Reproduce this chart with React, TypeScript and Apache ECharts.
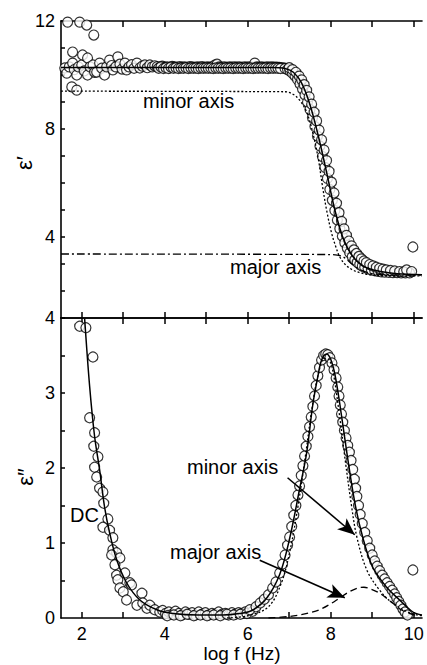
import React, { useEffect, useRef } from 'react';
import * as echarts from 'echarts';

const FONT = '"Liberation Sans", Arial, Helvetica, sans-serif';

// axis ticks / labels
const xTicks = [2, 3, 4, 5, 6, 7, 8, 9, 10];
const xLabels = [2, 4, 6, 8, 10];
const realTicks = [2, 3, 4, 5, 6, 7, 8, 9, 10, 11, 12];
const realLabels = [4, 8, 12];
const imagTicks = [0.5, 1, 1.5, 2, 2.5, 3, 3.5, 4];
const imagLabels = [0, 1, 2, 3, 4];

// ε' measured points [log f, ε']
const realLowFreq = [
  [1.66, 11.96], [1.95, 11.96], [2.12, 11.85], [2.29, 11.48],
  [1.59, 10.26], [1.64, 10.07], [1.7, 10.3], [1.76, 9.56], [1.78, 10.85], [1.78, 10.44],
  [1.82, 10.2], [1.88, 9.44], [1.88, 10.0], [1.92, 10.3], [2.0, 10.37], [2.02, 10.74],
  [2.06, 10.15], [2.14, 10.63], [2.14, 10.0], [2.2, 10.3], [2.27, 10.37], [2.31, 10.1],
  [2.36, 10.11], [2.43, 10.44], [2.48, 10.25], [2.55, 10.0], [2.6, 10.3], [2.67, 10.55],
  [2.72, 10.35], [2.75, 10.19], [2.82, 10.3], [2.87, 10.67], [2.92, 10.4], [2.97, 10.22],
  [3.04, 10.44], [3.08, 10.19], [3.14, 10.3], [3.2, 10.38], [3.26, 10.25], [3.33, 10.44],
  [3.4, 10.26], [3.46, 10.33], [3.52, 10.37], [3.58, 10.27], [3.64, 10.37], [3.7, 10.3],
  [3.76, 10.34],
];
const realPlateau = [
  [3.82, 10.31], [3.88, 10.27], [3.94, 10.33], [4.0, 10.29], [4.06, 10.3], [4.12, 10.26],
  [4.18, 10.32], [4.24, 10.3], [4.3, 10.28], [4.36, 10.31], [4.42, 10.29], [4.48, 10.3],
  [4.54, 10.27], [4.6, 10.31], [4.66, 10.3], [4.72, 10.28], [4.78, 10.3], [4.84, 10.29],
  [4.9, 10.31], [4.96, 10.28], [5.02, 10.3], [5.08, 10.29], [5.14, 10.3], [5.2, 10.36],
  [5.26, 10.4], [5.32, 10.3], [5.38, 10.29], [5.44, 10.3], [5.5, 10.28], [5.56, 10.3],
  [5.62, 10.29], [5.68, 10.3], [5.74, 10.29], [5.8, 10.3], [5.86, 10.28], [5.92, 10.3],
  [5.98, 10.29], [6.04, 10.3], [6.1, 10.29], [6.17, 10.44], [6.22, 10.3], [6.28, 10.29],
  [6.34, 10.3], [6.4, 10.28], [6.46, 10.3], [6.52, 10.29], [6.58, 10.3], [6.64, 10.29],
  [6.7, 10.29], [6.76, 10.28], [6.82, 10.27], [6.88, 10.25],
];
// second frequency sweep over the same plateau
const realPlateauB = [
  [3.85, 10.25], [3.91, 10.3], [3.97, 10.24], [4.03, 10.27], [4.09, 10.24], [4.15, 10.29],
  [4.21, 10.25], [4.27, 10.27], [4.33, 10.24], [4.39, 10.26], [4.45, 10.25], [4.51, 10.27],
  [4.57, 10.24], [4.63, 10.26], [4.69, 10.25], [4.75, 10.26], [4.81, 10.24], [4.87, 10.26],
  [4.93, 10.25], [4.99, 10.26], [5.05, 10.25], [5.11, 10.26], [5.17, 10.24], [5.23, 10.26],
  [5.29, 10.25], [5.35, 10.26], [5.41, 10.24], [5.47, 10.26], [5.53, 10.25], [5.59, 10.26],
  [5.65, 10.24], [5.71, 10.26], [5.77, 10.25], [5.83, 10.26], [5.89, 10.24], [5.95, 10.26],
  [6.01, 10.25], [6.07, 10.26], [6.13, 10.24], [6.19, 10.26], [6.25, 10.25], [6.31, 10.26],
  [6.37, 10.25], [6.43, 10.26], [6.49, 10.24], [6.55, 10.26], [6.61, 10.25], [6.67, 10.26],
  [6.73, 10.25], [6.79, 10.24],
];
const realDropA = [
  [6.9, 10.24], [6.96, 10.2], [7.02, 10.14], [7.08, 10.06], [7.14, 9.96], [7.2, 9.83],
  [7.26, 9.67], [7.32, 9.48], [7.38, 9.26], [7.44, 9.0], [7.5, 8.72], [7.56, 8.42],
  [7.62, 8.09], [7.68, 7.74], [7.74, 7.37], [7.8, 6.98], [7.86, 6.58], [7.92, 6.17],
  [7.98, 5.76], [8.04, 5.36], [8.1, 4.98], [8.16, 4.63], [8.22, 4.31], [8.28, 4.03],
  [8.34, 3.79], [8.4, 3.58], [8.46, 3.41], [8.52, 3.27], [8.58, 3.15], [8.64, 3.06],
  [8.7, 2.98], [8.76, 2.92], [8.82, 2.87], [8.9, 2.82], [8.98, 2.78], [9.06, 2.75],
  [9.14, 2.73], [9.22, 2.71], [9.3, 2.7], [9.4, 2.69], [9.5, 2.68], [9.6, 2.68],
  [9.7, 2.67], [9.8, 2.67], [9.9, 2.67],
];
const realDropB = [
  [7.0, 10.27], [7.08, 10.2], [7.16, 10.1], [7.24, 9.96], [7.3, 9.82], [7.36, 9.64],
  [7.42, 9.43], [7.48, 9.19], [7.54, 8.92], [7.6, 8.62], [7.66, 8.3], [7.72, 7.96],
  [7.78, 7.6], [7.84, 7.22], [7.9, 6.83], [7.96, 6.43], [8.02, 6.03], [8.08, 5.63],
  [8.14, 5.25], [8.2, 4.9], [8.26, 4.58], [8.32, 4.3], [8.38, 4.06], [8.44, 3.85],
  [8.5, 3.67], [8.56, 3.52], [8.62, 3.39], [8.68, 3.28], [8.74, 3.19], [8.8, 3.11],
  [8.86, 3.05], [8.94, 2.98], [9.02, 2.93], [9.1, 2.88], [9.18, 2.84], [9.26, 2.81],
  [9.34, 2.78], [9.44, 2.76], [9.54, 2.74], [9.66, 2.72], [9.76, 2.71], [9.83, 2.78],
  [9.95, 2.72],
];
const realOutlier = [[9.98, 3.63]];

// ε' curves
const realFit = [
  [1.5, 10.28], [6.6, 10.28], [6.9, 10.24], [7.1, 10.1], [7.3, 9.7], [7.5, 8.9],
  [7.7, 7.75], [7.9, 6.4], [8.1, 5.0], [8.3, 3.95], [8.5, 3.35], [8.7, 3.02],
  [8.9, 2.84], [9.2, 2.72], [9.6, 2.64], [10.2, 2.6],
];
const realMinor = [
  [1.5, 9.4], [6.9, 9.38], [7.1, 9.28], [7.25, 9.07], [7.42, 8.63], [7.57, 7.85],
  [7.7, 6.9], [7.8, 5.9], [7.9, 5.0], [8.02, 4.15], [8.12, 3.65], [8.22, 3.26],
  [8.35, 2.98], [8.53, 2.78], [8.75, 2.66], [8.94, 2.6], [9.3, 2.57], [10.2, 2.56],
];
const realMajor = [
  [1.5, 3.37], [8.0, 3.35], [8.25, 3.3], [8.4, 3.15], [8.55, 2.95], [8.7, 2.8],
  [8.9, 2.68], [9.1, 2.63], [9.5, 2.6], [10.2, 2.59],
];

// ε'' measured points [log f, ε'']
const imagDC = [
  [1.95, 3.89], [2.1, 3.87], [2.27, 3.48], [2.19, 2.67], [2.31, 2.47], [2.29, 2.29],
  [2.39, 2.15], [2.31, 2.01], [2.36, 1.88], [2.43, 1.73], [2.51, 1.68], [2.53, 1.53],
  [2.63, 1.32], [2.51, 1.21], [2.67, 1.17], [2.75, 1.07], [2.75, 0.91], [2.84, 0.87],
  [2.72, 0.84], [2.92, 0.8], [2.8, 0.71], [2.84, 0.57], [2.87, 0.51], [2.92, 0.4],
  [3.0, 0.35], [3.04, 0.6], [3.16, 0.47], [3.2, 0.44], [3.08, 0.24], [3.33, 0.17],
  [3.45, 0.33], [3.47, 0.2], [3.57, 0.13], [3.64, 0.17], [3.76, 0.11], [3.88, 0.08],
];
const imagFlat = [
  [3.95, 0.1], [4.02, 0.06], [4.1, 0.08], [4.18, 0.05], [4.26, 0.09], [4.34, 0.06],
  [4.42, 0.04], [4.5, 0.08], [4.58, 0.05], [4.66, 0.07], [4.74, 0.04], [4.82, 0.08],
  [4.9, 0.05], [4.98, 0.07], [5.06, 0.04], [5.14, 0.06], [5.22, 0.05], [5.3, 0.08],
  [5.38, 0.05], [5.46, 0.06], [5.54, 0.04], [5.62, 0.07], [5.7, 0.05], [5.78, 0.07],
  [5.86, 0.06], [5.94, 0.08],
];
const imagFlatB = [
  [4.06, 0.03], [4.22, 0.04], [4.38, 0.03], [4.54, 0.05], [4.7, 0.03], [4.86, 0.04],
  [5.02, 0.03], [5.18, 0.04], [5.34, 0.03], [5.5, 0.05], [5.66, 0.04], [5.82, 0.05],
  [5.98, 0.06], [6.12, 0.09],
];
const imagPeak = [
  [6.05, 0.11], [6.2, 0.15], [6.3, 0.2], [6.4, 0.25], [6.5, 0.31], [6.6, 0.4],
  [6.68, 0.48], [6.77, 0.6], [6.84, 0.72], [6.9, 0.84], [6.96, 0.97], [7.01, 1.08],
  [7.06, 1.22], [7.11, 1.37], [7.16, 1.5], [7.21, 1.64], [7.25, 1.76], [7.29, 1.9],
  [7.33, 2.03], [7.37, 2.16], [7.41, 2.29], [7.45, 2.42], [7.49, 2.55], [7.53, 2.68],
  [7.57, 2.82], [7.61, 2.96], [7.65, 3.1], [7.69, 3.23], [7.73, 3.34], [7.78, 3.44],
  [7.83, 3.5], [7.88, 3.52], [7.93, 3.51], [7.98, 3.47], [8.03, 3.4], [8.08, 3.31],
  [8.13, 3.2], [8.17, 3.08], [8.2, 2.96], [8.23, 2.84], [8.26, 2.72], [8.29, 2.61],
  [8.33, 2.5], [8.37, 2.4], [8.41, 2.3], [8.45, 2.21], [8.49, 2.1], [8.53, 1.98],
  [8.57, 1.85], [8.6, 1.73], [8.63, 1.62], [8.67, 1.5], [8.71, 1.38], [8.76, 1.26],
  [8.82, 1.14], [8.88, 1.03], [8.94, 0.93], [9.0, 0.84], [9.06, 0.76], [9.12, 0.69],
  [9.18, 0.63], [9.24, 0.57], [9.3, 0.52], [9.36, 0.47], [9.42, 0.42], [9.48, 0.37],
  [9.54, 0.32], [9.59, 0.27], [9.64, 0.22], [9.69, 0.17], [9.74, 0.12], [9.79, 0.08],
  [9.85, 0.04],
];
const imagOutlier = [[9.98, 0.64]];

// ε'' curves
const imagFit = [
  [2.07, 3.99], [2.19, 3.09], [2.31, 2.42], [2.43, 1.98], [2.55, 1.48], [2.67, 1.14],
  [2.84, 0.78], [3.08, 0.47], [3.4, 0.24], [3.81, 0.11], [4.2, 0.06], [4.8, 0.04],
  [5.4, 0.04], [5.8, 0.06], [6.1, 0.1], [6.45, 0.26], [6.77, 0.58], [7.01, 1.06],
  [7.25, 1.72], [7.42, 2.2], [7.57, 2.85], [7.69, 3.22], [7.78, 3.44], [7.9, 3.52],
  [8.0, 3.45], [8.1, 3.25], [8.22, 2.85], [8.39, 2.2], [8.58, 1.54], [8.77, 1.08],
  [9.01, 0.68], [9.35, 0.41], [9.66, 0.24], [9.98, 0.08], [10.2, 0.04],
];
const imagMinor = [
  [5.5, 0.0], [6.0, 0.03], [6.5, 0.15], [6.8, 0.45], [7.0, 0.85], [7.2, 1.45],
  [7.4, 2.2], [7.55, 2.8], [7.7, 3.25], [7.85, 3.46], [7.95, 3.45], [8.05, 3.3],
  [8.2, 2.75], [8.35, 2.1], [8.5, 1.5], [8.63, 1.08], [8.87, 0.64], [9.18, 0.37],
  [9.49, 0.2], [9.9, 0.07], [10.2, 0.03],
];
const imagMajor = [
  [6.5, 0.0], [7.0, 0.02], [7.25, 0.04], [7.5, 0.07], [7.73, 0.11], [8.0, 0.19],
  [8.22, 0.27], [8.45, 0.35], [8.65, 0.4], [8.8, 0.41], [8.95, 0.39], [9.18, 0.33],
  [9.49, 0.2], [9.73, 0.1], [10.07, 0.03],
];

// annotation arrows [start, tip] in data units of the ε'' panel
const minorArrow = [[6.96, 1.87], [8.58, 1.11]];
const majorArrow = [[6.29, 0.77], [8.34, 0.27]];

const X_MIN = 1.5;
const X_MAX = 10.2;

function xAxis(gridIndex: number, position: 'top' | 'bottom', labels: boolean) {
  return {
    type: 'value',
    gridIndex,
    position,
    min: X_MIN,
    max: X_MAX,
    axisLine: { show: true, onZero: false, lineStyle: { color: '#000', width: 1.6 } },
    axisTick: {
      show: true,
      inside: true,
      length: 6,
      customValues: xTicks,
      lineStyle: { color: '#000', width: 1.5 },
    },
    axisLabel: labels
      ? {
          show: true,
          customValues: xLabels,
          color: '#000',
          fontFamily: FONT,
          fontSize: 18,
          margin: 7,
        }
      : { show: false },
    splitLine: { show: false },
  };
}

function yAxis(gridIndex: number, min: number, max: number, ticks: number[], labels: number[]) {
  return {
    type: 'value',
    gridIndex,
    min,
    max,
    axisLine: { show: true, onZero: false, lineStyle: { color: '#000', width: 1.6 } },
    axisTick: {
      show: true,
      inside: true,
      length: 4,
      customValues: ticks,
      lineStyle: { color: '#000', width: 1.5 },
    },
    axisLabel: {
      show: true,
      customValues: labels,
      color: '#000',
      fontFamily: FONT,
      fontSize: 18,
      margin: 6,
    },
    splitLine: { show: false },
  };
}

const circleStyle = { color: '#fff', borderColor: '#000', borderWidth: 1.2 };

function scatter(data: number[][], xi: number, yi: number) {
  return {
    type: 'scatter',
    xAxisIndex: xi,
    yAxisIndex: yi,
    data,
    symbol: 'circle',
    symbolSize: 10,
    itemStyle: circleStyle,
    z: 2,
    silent: true,
  };
}

function curve(data: number[][], xi: number, yi: number, type: any, width = 1.4, extra: any = {}) {
  return {
    type: 'line',
    xAxisIndex: xi,
    yAxisIndex: yi,
    data,
    showSymbol: false,
    symbol: 'none',
    smooth: 0.35,
    lineStyle: { color: '#000', width, type },
    z: 3,
    silent: true,
    ...extra,
  };
}

function arrow(pair: number[][]) {
  return {
    silent: true,
    symbol: ['none', 'arrow'],
    symbolSize: [11, 17],
    itemStyle: { color: '#000' },
    lineStyle: { color: '#000', width: 1.6, type: 'solid' },
    label: { show: false },
    emphasis: { disabled: true },
    data: [[{ coord: pair[0] }, { coord: pair[1] }]],
  };
}

function textEl(text: string, x: number, y: number, size = 20) {
  return {
    type: 'text',
    x,
    y,
    silent: true,
    style: {
      text,
      fill: '#000',
      font: `${size}px ${FONT}`,
      textVerticalAlign: 'middle',
      verticalAlign: 'middle',
    },
  };
}

function centeredText(text: string, x: number, y: number, size: number, rotation = 0) {
  return {
    type: 'text',
    x,
    y,
    rotation,
    silent: true,
    style: {
      text,
      fill: '#000',
      font: `${size}px ${FONT}`,
      align: 'center',
      textAlign: 'center',
      verticalAlign: 'middle',
      textVerticalAlign: 'middle',
    },
  };
}

export default function App() {
  const ref = useRef<HTMLDivElement>(null);

  useEffect(() => {
    if (!ref.current) return;
    const chart = echarts.init(ref.current, undefined, { renderer: 'svg' });
    chart.setOption({
      animation: false,
      backgroundColor: '#fff',
      grid: [
        { left: 61, right: 5, top: 21, height: 297 },
        { left: 61, right: 5, top: 318, height: 300 },
      ],
      xAxis: [
        xAxis(0, 'bottom', false),
        xAxis(0, 'top', false),
        xAxis(1, 'bottom', true),
        xAxis(1, 'top', false),
      ],
      yAxis: [
        yAxis(0, 1, 12, realTicks, realLabels),
        yAxis(1, 0, 4, imagTicks, imagLabels),
      ],
      series: [
        scatter(
          [...realLowFreq, ...realPlateau, ...realPlateauB, ...realDropA, ...realDropB, ...realOutlier],
          0,
          0
        ),
        curve(realFit, 0, 0, 'solid', 1.5),
        curve(realMinor, 0, 0, [2, 2], 1.3),
        curve(realMajor, 0, 0, [8, 3, 2, 3], 1.3),
        scatter([...imagDC, ...imagFlat, ...imagFlatB, ...imagPeak, ...imagOutlier], 2, 1),
        curve(imagFit, 2, 1, 'solid', 1.5),
        curve(imagMinor, 2, 1, [2, 2], 1.3, { markLine: arrow(minorArrow) }),
        curve(imagMajor, 2, 1, [7, 4], 1.3, { markLine: arrow(majorArrow) }),
      ],
      graphic: [
        textEl('minor axis', 143, 101),
        textEl('major axis', 230, 267),
        textEl('minor axis', 187, 467),
        textEl('major axis', 170, 552),
        textEl('DC', 70, 515),
        centeredText('log f (Hz)', 242, 653, 19),
        centeredText('ε′', 24, 163, 22, Math.PI / 2),
        centeredText('ε″', 25, 477, 22, Math.PI / 2),
      ],
    });
    return () => chart.dispose();
  }, []);

  return (
    <div
      ref={ref}
      style={{ position: 'absolute', left: 0, top: 0, width: 427, height: 665, background: '#fff' }}
    />
  );
}
